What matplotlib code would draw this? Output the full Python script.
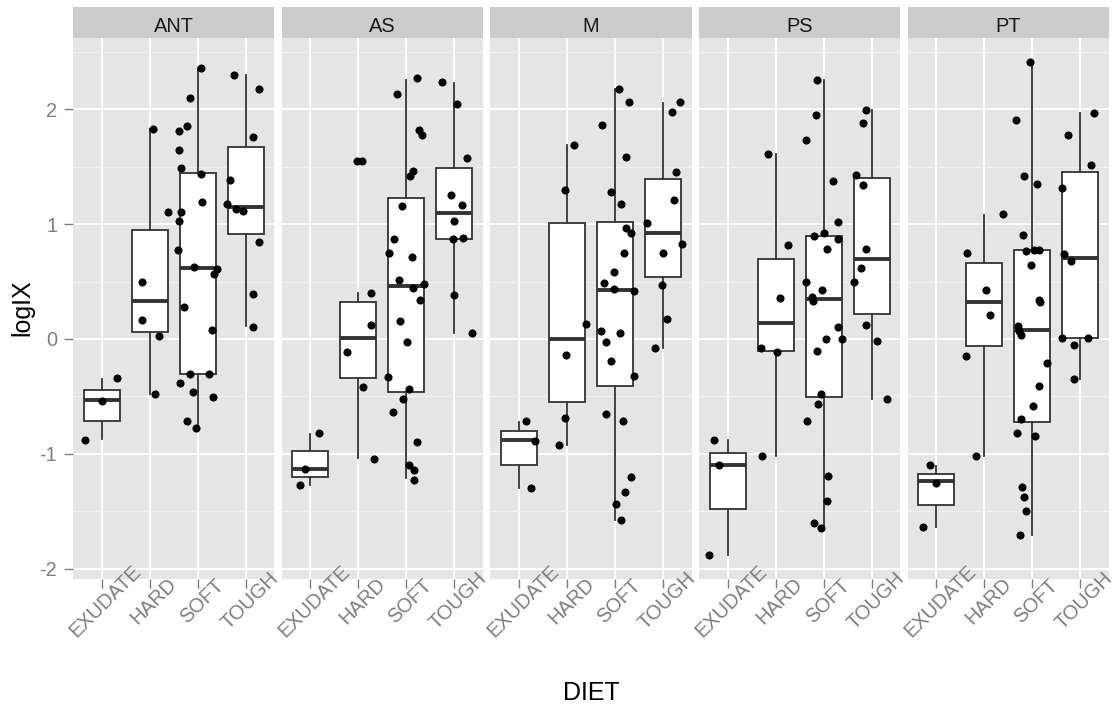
import matplotlib
matplotlib.use("Agg")
import matplotlib.pyplot as plt
from matplotlib.transforms import ScaledTranslation, blended_transform_factory
from matplotlib.ticker import FixedLocator

plt.rcParams['font.family'] = ['Liberation Sans', 'DejaVu Sans']
plt.rcParams['axes.unicode_minus'] = False

facets = ["ANT", "AS", "M", "PS", "PT"]
diets = ["EXUDATE", "HARD", "SOFT", "TOUGH"]
y_ticks = [-2, -1, 0, 1, 2]
y_minor = [-1.5, -0.5, 0.5, 1.5, 2.5]

# Box statistics per facet (rows) and diet (columns)
box_lo = [[-0.872, -0.482, -0.777, 0.113],
          [-1.268, -1.037, -1.213, 0.052],
          [-1.293, -0.918, -1.570, -0.079],
          [-1.875, -1.015, -1.646, -0.521],
          [-1.634, -1.015, -1.704, -0.348]]
box_q1 = [[-0.710, 0.064, -0.305, 0.915],
          [-1.204, -0.338, -0.457, 0.866],
          [-1.098, -0.549, -0.405, 0.537],
          [-1.482, -0.107, -0.506, 0.220],
          [-1.445, -0.064, -0.723, 0.012]]
box_med = [[-0.534, 0.332, 0.616, 1.152],
           [-1.128, 0.006, 0.463, 1.098],
           [-0.878, -0.003, 0.427, 0.918],
           [-1.095, 0.140, 0.351, 0.695],
           [-1.238, 0.326, 0.082, 0.701]]
box_q3 = [[-0.442, 0.948, 1.445, 1.668],
          [-0.970, 0.326, 1.223, 1.488],
          [-0.799, 1.006, 1.021, 1.393],
          [-0.988, 0.698, 0.899, 1.402],
          [-1.174, 0.665, 0.777, 1.454]]
box_hi = [[-0.345, 1.826, 2.360, 2.300],
          [-0.823, 0.396, 2.256, 2.226],
          [-0.726, 1.683, 2.174, 2.055],
          [-0.881, 1.607, 2.256, 1.988],
          [-1.107, 1.082, 2.405, 1.963]]

# Jittered observations (logIX) and their horizontal jitter, per diet
ANT_y = [[-0.338, -0.543, -0.878],
         [1.826, 1.104, 0.497, 0.168, 0.027, -0.482],
         [2.36, 2.10, 1.85, 1.81, 1.64, 1.485, 1.433, 1.195, 1.107, 1.027, 0.771, 0.625,
          0.613, 0.567, 0.274, 0.079, -0.308, -0.305, -0.381, -0.46, -0.506, -0.713, -0.777],
         [2.30, 2.17, 1.76, 1.384, 1.177, 1.128, 1.113, 0.841, 0.387, 0.107]]
ANT_dx = [[0.31, 0.00, -0.36],
          [0.06, 0.38, -0.17, -0.17, 0.19, 0.10],
          [0.07, -0.16, -0.22, -0.38, -0.38, -0.35, 0.06, 0.10, -0.34, -0.39, -0.40, -0.07,
           0.40, 0.35, -0.29, 0.29, -0.15, 0.23, -0.37, -0.10, 0.32, -0.23, -0.03],
          [-0.24, 0.29, 0.16, -0.33, -0.38, -0.21, -0.05, 0.29, 0.16, 0.16]]

AS_y = [[-0.814, -1.128, -1.271],
        [1.552, 1.552, 0.396, 0.122, -0.113, -0.415, -1.04],
        [2.268, 2.131, 1.82, 1.774, 1.463, 1.421, 1.159, 0.866, 0.75, 0.713, 0.509, 0.482,
         0.445, 0.338, 0.155, -0.03, -0.329, -0.436, -0.518, -0.634, -0.893, -1.10, -1.143, -1.223],
        [2.235, 2.043, 1.573, 1.25, 1.162, 1.03, 0.866, 0.875, 0.384, 0.049]]
AS_dx = [[0.17, -0.11, -0.22],
         [-0.02, 0.08, 0.27, 0.27, -0.24, 0.09, 0.32],
         [0.22, -0.20, 0.27, 0.32, 0.13, 0.07, -0.10, -0.26, -0.36, 0.11, -0.16, 0.37,
          0.13, 0.28, -0.14, 0.01, -0.39, 0.06, -0.06, -0.27, 0.22, 0.06, 0.16, 0.16],
         [-0.26, 0.06, 0.27, -0.07, 0.16, 0.0, -0.03, 0.18, 0.0, 0.36]]

M_y = [[-0.716, -0.887, -1.299],
       [1.686, 1.296, 0.128, -0.137, -0.683, -0.924],
       [2.174, 2.061, 1.857, 1.582, 1.28, 1.171, 0.966, 0.918, 0.747, 0.582, 0.491, 0.439,
        0.418, 0.07, 0.052, -0.03, -0.192, -0.32, -0.655, -0.716, -1.201, -1.335, -1.436, -1.573],
       [2.061, 1.97, 1.454, 1.213, 1.012, 0.823, 0.747, 0.47, 0.177, -0.082]]
M_dx = [[0.15, 0.34, 0.25],
        [0.15, -0.05, 0.39, -0.02, -0.04, -0.17],
        [0.08, 0.30, -0.28, 0.23, -0.08, 0.13, 0.23, 0.33, 0.19, -0.03, -0.23, -0.01,
         0.40, -0.29, 0.11, -0.18, -0.09, 0.39, -0.18, 0.17, 0.33, 0.20, 0.03, 0.12],
        [0.35, 0.19, 0.27, 0.24, -0.33, 0.39, 0.0, -0.01, 0.09, -0.16]]

PS_y = [[-0.878, -1.095, -1.875],
        [1.613, 0.817, 0.357, -0.079, -0.11, -1.018],
        [2.256, 1.948, 1.729, 1.372, 1.018, 0.896, 0.918, 0.866, 0.784, 0.494, 0.427, 0.363,
         0.329, 0.101, 0.003, 0.0, -0.107, -0.482, -0.564, -0.716, -1.195, -1.405, -1.604, -1.646],
        [1.988, 1.878, 1.427, 1.335, 0.78, 0.616, 0.497, 0.122, -0.018, -0.524]]
PS_dx = [[-0.28, -0.18, -0.40],
         [-0.15, 0.25, 0.08, -0.31, 0.03, -0.28],
         [-0.14, -0.16, -0.36, 0.20, 0.30, -0.20, 0.0, 0.29, 0.07, -0.36, -0.04, -0.24,
          -0.22, 0.31, 0.04, 0.38, -0.13, -0.06, -0.12, -0.35, 0.10, 0.08, -0.21, -0.05],
         [-0.11, -0.17, -0.33, -0.18, -0.11, -0.22, -0.36, -0.11, 0.11, 0.33]]

PT_y = [[-1.098, -1.25, -1.634],
        [1.088, 0.744, 0.43, 0.213, -0.152, -1.021],
        [2.408, 1.905, 1.418, 1.348, 0.902, 0.765, 0.777, 0.777, 0.646, 0.341, 0.323, 0.113,
         0.067, 0.037, -0.213, -0.412, -0.585, -0.698, -0.817, -0.845, -1.284, -1.372, -1.494, -1.707],
        [1.966, 1.771, 1.509, 1.314, 0.735, 0.674, 0.012, 0.012, -0.055, -0.351]]
PT_dx = [[-0.14, 0.0, -0.29],
         [0.38, -0.37, 0.03, 0.12, -0.38, -0.18],
         [-0.04, -0.33, -0.17, 0.10, -0.20, -0.13, 0.03, 0.15, -0.03, 0.15, 0.17, -0.30,
          -0.27, -0.24, 0.30, 0.15, 0.01, -0.24, -0.32, 0.06, -0.22, -0.17, -0.13, -0.25],
         [0.29, -0.25, 0.23, -0.38, -0.33, -0.20, -0.38, 0.17, -0.14, -0.12]]

points_y = [ANT_y, AS_y, M_y, PS_y, PT_y]
points_dx = [ANT_dx, AS_dx, M_dx, PS_dx, PT_dx]

# ---------------------------------------------------------------- layout
W, H = 1120, 710
DPI = 100
fig = plt.figure(figsize=(W / DPI, H / DPI), dpi=DPI, facecolor="white")

left_px, right_px, gap_px = 73, 1109, 7.3
pw = (right_px - left_px - 4 * gap_px) / 5
top_px, bot_px, strip_top = 37.5, 579.2, 7.0

all_y = [v for f in points_y for d in f for v in d]
ymin, ymax = min(all_y), max(all_y)
pad = 0.05 * (ymax - ymin)

PANEL = "#E5E5E5"
STRIP = "#CCCCCC"
GREY50 = "#7F7F7F"
BOXC = "#333333"
FS_TICK = 14.4

for i, fac in enumerate(facets):
    x0 = left_px + i * (pw + gap_px)
    ax = fig.add_axes([x0 / W, 1 - bot_px / H, pw / W, (bot_px - top_px) / H])
    ax.set_facecolor(PANEL)
    for s in ax.spines.values():
        s.set_visible(False)
    ax.set_xlim(0.4, len(diets) + 0.6)
    ax.set_ylim(ymin - pad, ymax + pad)
    pos = list(range(1, len(diets) + 1))

    ax.set_xticks(pos)
    ax.set_xticklabels([])
    ax.set_yticks(y_ticks)
    ax.yaxis.set_minor_locator(FixedLocator(y_minor))
    ax.set_axisbelow(True)
    ax.grid(which="major", color="white", lw=1.3)
    ax.grid(which="minor", axis="y", color="#F2F2F2", lw=0.7)
    ax.tick_params(which="minor", length=0)
    ax.tick_params(axis="x", which="major", length=6.3, width=1.0, color=GREY50)
    if i == 0:
        ax.set_yticklabels([str(t) for t in y_ticks])
        ax.tick_params(axis="y", which="major", length=6.3, width=1.0, color=GREY50,
                       labelcolor=GREY50, labelsize=FS_TICK, pad=5)
    else:
        ax.tick_params(axis="y", which="major", length=0, labelleft=False)

    stats = []
    for j in range(len(diets)):
        stats.append(dict(whislo=box_lo[i][j], q1=box_q1[i][j], med=box_med[i][j],
                          q3=box_q3[i][j], whishi=box_hi[i][j], fliers=[]))
    ax.bxp(stats, positions=pos, widths=0.75, patch_artist=True, showfliers=False,
           showcaps=False,
           boxprops=dict(facecolor="white", edgecolor=BOXC, linewidth=1.3),
           medianprops=dict(color=BOXC, linewidth=2.8, solid_capstyle="butt"),
           whiskerprops=dict(color=BOXC, linewidth=1.3),
           manage_ticks=False, zorder=2)

    for j in range(len(diets)):
        xs = [pos[j] + d for d in points_dx[i][j]]
        ax.scatter(xs, points_y[i][j], s=34, c="black", linewidths=0, zorder=3)

    # rotated category labels
    trans = blended_transform_factory(ax.transData, ax.transAxes) + \
        ScaledTranslation(4 / DPI, -21.7 / DPI, fig.dpi_scale_trans)
    for j, d in enumerate(diets):
        ax.text(pos[j], 0, d, transform=trans, rotation=45, ha="center", va="center",
                rotation_mode="anchor", color=GREY50, fontsize=FS_TICK, clip_on=False)

    # facet strip
    sax = fig.add_axes([x0 / W, 1 - top_px / H, pw / W, (top_px - strip_top) / H])
    sax.set_facecolor(STRIP)
    sax.set_xticks([])
    sax.set_yticks([])
    for s in sax.spines.values():
        s.set_visible(False)
    sax.text(0.5, 0.19, fac, ha="center", va="baseline", fontsize=FS_TICK,
             color="#1A1A1A", transform=sax.transAxes)

fig.text(22 / W, 1 - 308 / H, "logIX", rotation=90, ha="center", va="center",
         fontsize=18, color="black")
fig.text(591 / W, 1 - 693 / H, "DIET", ha="center", va="center", fontsize=18,
         color="black")

fig.savefig("out.png", dpi=DPI, facecolor="white")
